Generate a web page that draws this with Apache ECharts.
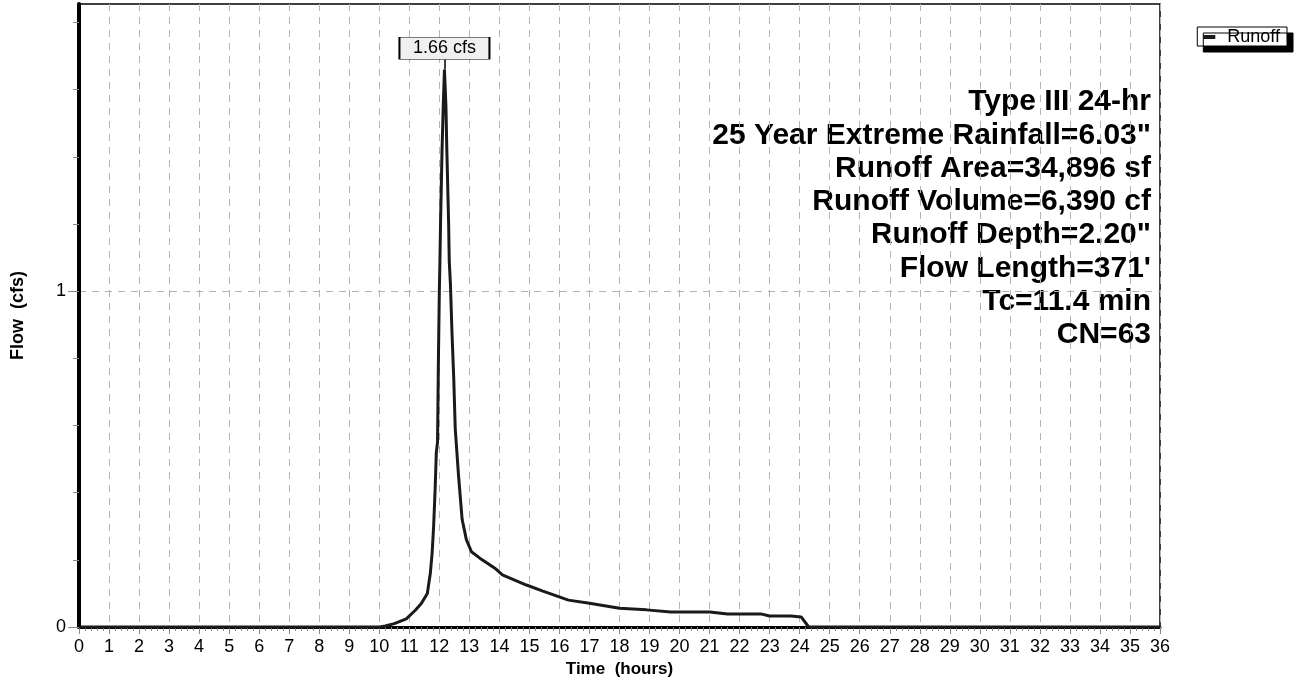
<!DOCTYPE html>
<html>
<head>
<meta charset="utf-8">
<script src="https://cdn.jsdelivr.net/npm/echarts@6/dist/echarts.min.js"></script>
<style>
  html, body { margin: 0; padding: 0; background: #fff; }
  #chart { width: 1294px; height: 684px; }
</style>
</head>
<body>
<div id="chart"></div>
<script>
var FONT = 'Liberation Sans, Arial, Helvetica, sans-serif';

// hydrograph: time (hours) / flow (cfs)
var times = [0, 10.0, 10.2, 10.5, 10.9, 11.2, 11.4, 11.6, 11.7, 11.76, 11.81, 11.86, 11.9, 11.94, 11.97, 12.0, 12.02, 12.04, 12.09, 12.13, 12.17,
  12.22, 12.25, 12.31, 12.33, 12.37, 12.42, 12.48, 12.53, 12.64, 12.76, 12.9, 13.07, 13.35, 13.85, 14.1, 14.45, 14.9, 15.45, 16.3, 17.0,
  18.0, 18.9, 19.7, 21.0, 21.6, 22.7, 23.0, 23.7, 24.05, 24.3, 36];
var flows = [0, 0, 0.003, 0.01, 0.024, 0.05, 0.07, 0.10, 0.16, 0.22, 0.30, 0.41, 0.52, 0.55, 0.80, 1.0, 1.09, 1.20, 1.42, 1.55, 1.66,
  1.55, 1.42, 1.20, 1.09, 1.02, 0.88, 0.74, 0.59, 0.45, 0.32, 0.26, 0.224, 0.205, 0.175, 0.155, 0.142, 0.125, 0.107, 0.08, 0.071,
  0.056, 0.051, 0.045, 0.045, 0.039, 0.039, 0.033, 0.033, 0.03, 0, 0];

var yLabels = [0, 1];
var yMinor = [0.2, 0.4, 0.6, 0.8, 1.2, 1.4, 1.6, 1.8];

var notes = [
  'Type III 24-hr',
  '25 Year Extreme Rainfall=6.03"',
  'Runoff Area=34,896 sf',
  'Runoff Volume=6,390 cf',
  'Runoff Depth=2.20"',
  'Flow Length=371\'',
  'Tc=11.4 min',
  'CN=63'
];

var points = times.map(function(t, i) { return [t, flows[i]]; });
var peakIdx = 0;
flows.forEach(function(v, i) { if (v > flows[peakIdx]) peakIdx = i; });
var peakT = times[peakIdx], peakQ = flows[peakIdx];

// one text element per line so each is right aligned on its own
var noteGraphics = notes.map(function(line, i) {
  return {
    type: 'text',
    right: 143, top: 87 + i * 33.3,
    style: { text: line, font: 'bold 30px ' + FONT, fill: '#000' }
  };
});

var chart = echarts.init(document.getElementById('chart'));
var yMax = 1.855;

chart.setOption({
  animation: false,
  backgroundColor: '#fff',
  textStyle: { fontFamily: FONT },
  grid: {
    left: 79, right: 134, top: 4, bottom: 57,
    show: true, borderColor: '#000', borderWidth: 1.5, backgroundColor: 'transparent'
  },
  legend: {
    data: [{ name: 'Runoff', icon: 'rect' }],
    right: 7, top: 27,
    backgroundColor: '#fff',
    borderColor: '#000', borderWidth: 1,
    shadowColor: '#000', shadowBlur: 0, shadowOffsetX: 6, shadowOffsetY: 6,
    padding: [1, 7, 0, 6],
    itemWidth: 12, itemHeight: 4,
    textStyle: { fontFamily: FONT, fontSize: 18, color: '#000', padding: [0, 0, 0, 7] }
  },
  xAxis: {
    type: 'value', min: 0, max: 36, interval: 1,
    name: 'Time  (hours)', nameLocation: 'middle', nameGap: 32,
    nameTextStyle: { fontFamily: FONT, fontSize: 17, fontWeight: 'bold', color: '#000' },
    axisLine: { lineStyle: { color: '#000', width: 3 } },
    axisTick: { length: 7, lineStyle: { color: '#888', width: 1 } },
    minorTick: { show: true, splitNumber: 5, length: 4, lineStyle: { color: '#888', width: 1 } },
    axisLabel: { fontFamily: FONT, fontSize: 18, color: '#000', margin: 11 },
    splitLine: { show: true, lineStyle: { color: '#b4b4b4', type: [7, 6], width: 1 } }
  },
  yAxis: [{
    type: 'value', min: 0, max: yMax, interval: 1,
    name: 'Flow  (cfs)', nameLocation: 'middle', nameGap: 52, nameRotate: 90,
    nameTextStyle: { fontFamily: FONT, fontSize: 18, fontWeight: 'bold', color: '#000' },
    axisLine: { show: true, lineStyle: { color: '#000', width: 4 } },
    axisTick: { show: true, length: 11, customValues: yLabels, lineStyle: { color: '#888', width: 1 } },
    axisLabel: { fontFamily: FONT, fontSize: 18, color: '#000', margin: 13, customValues: yLabels },
    splitLine: { show: true, lineStyle: { color: '#b4b4b4', type: [7, 6], width: 1 } }
  }, {
    type: 'value', min: 0, max: yMax, position: 'left',
    axisLine: { show: false },
    axisTick: { show: true, length: 6, customValues: yMinor, lineStyle: { color: '#888', width: 1 } },
    axisLabel: { show: false },
    splitLine: { show: false }
  }],
  graphic: noteGraphics,
  series: [{
    name: 'Runoff',
    type: 'line',
    data: points,
    symbol: 'none',
    lineStyle: { color: '#1a1a1a', width: 3 },
    itemStyle: { color: '#1a1a1a' },
    z: 5,
    markLine: {
      silent: true, symbol: 'none',
      lineStyle: { color: '#000', width: 1.5, type: 'solid' },
      label: { show: false },
      data: [[{ coord: [peakT, peakQ] }, { coord: [peakT, 1.69] }]]
    },
    markPoint: {
      silent: true,
      symbol: 'rect', symbolSize: [90, 22],
      itemStyle: { color: '#f0f0f0', borderColor: '#000', borderWidth: 1 },
      label: {
        show: true, position: 'inside',
        formatter: peakQ.toFixed(2) + ' cfs',
        fontFamily: FONT, fontSize: 18, color: '#000'
      },
      data: [{ coord: [peakT, 1.723] }]
    }
  }]
});
</script>
</body>
</html>
